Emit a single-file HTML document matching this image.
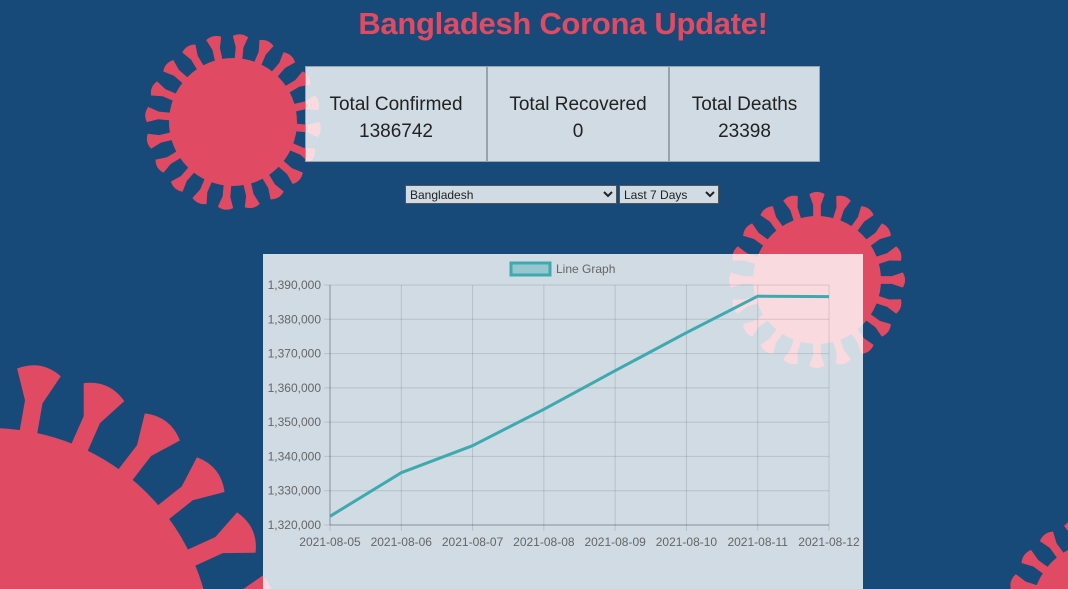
<!DOCTYPE html>
<html><head><meta charset="utf-8">
<style>
html,body{margin:0;padding:0;overflow:hidden;width:1068px;height:589px}
body{background:#174a78;position:relative;font-family:"Liberation Sans",sans-serif}
#bg{position:absolute;left:0;top:0}
h1{position:absolute;top:6px;left:263px;width:600px;margin:0;text-align:center;color:#e04a62;font-size:31px;font-weight:bold;letter-spacing:-0.3px}
.cards{position:absolute;left:305px;top:66px;display:flex}
.card{width:182px;height:96px;background:rgba(255,255,255,0.8);border:1px solid #9aa3ab;box-sizing:border-box;text-align:center;font-size:19px;color:#222;padding-top:24px;line-height:27px}
.card:last-child{width:151px}
select{position:absolute;top:185px;height:19px;font-size:12px;font-family:"Liberation Sans",sans-serif;background:#d1dbe4;color:#222;border:1px solid #555}
#chart{position:absolute;left:263px;top:254px;width:600px;height:335px;background:rgba(255,255,255,0.8)}
</style></head><body>
<svg id="bg" width="1068" height="589">
<g id="v1"></g>
<g id="v2"></g>
<g id="v3"></g>
<g id="v4"></g>
</svg>
<h1>Bangladesh Corona Update!</h1>
<div class="cards">
<div class="card">Total Confirmed<br>1386742</div>
<div class="card">Total Recovered<br>0</div>
<div class="card">Total Deaths<br>23398</div>
</div>
<select style="left:405px;width:212px"><option>Bangladesh</option></select>
<select style="left:619px;width:100px"><option>Last 7 Days</option></select>
<svg id="chart" width="600" height="335"></svg>
<script>
const NS="http://www.w3.org/2000/svg";
function mk(p,t,a){const e=document.createElementNS(NS,t);for(const k in a)e.setAttribute(k,a[k]);p.appendChild(e);return e;}
function virus(id,cx,cy,r,n,rot,lf,wf,tf){
  const g=document.getElementById(id);const c="#e04a62";
  mk(g,"circle",{cx:cx,cy:cy,r:r,fill:c});
  const L=r*lf,w=r*wf,tw=r*tf;
  for(let i=0;i<n;i++){
    const a=rot+i*360/n;
    const s=mk(g,"g",{transform:`translate(${cx},${cy}) rotate(${a})`});
    mk(s,"path",{d:`M${-w/2},${-r+4} L${-w/2},${-r-L*0.5} L${-tw/2},${-r-L} Q0,${-r-L-tw*0.3} ${tw/2},${-r-L} L${w/2},${-r-L*0.5} L${w/2},${-r+4} Z`,fill:c});
  }
}
virus("v1",233,122,64,20,5,0.34,0.12,0.24);
virus("v2",817,280,64,20,0,0.34,0.12,0.24);
virus("v3",-10,650,222,26,10,0.27,0.08,0.2);
virus("v4",1100,610,68,20,0,0.34,0.12,0.24);

const categories=["2021-08-05","2021-08-06","2021-08-07","2021-08-08","2021-08-09","2021-08-10","2021-08-11","2021-08-12"];
const values=[1322540,1335250,1343130,1353750,1365000,1376080,1386740,1386600];
const yTicks=[1320000,1330000,1340000,1350000,1360000,1370000,1380000,1390000];
const svg=document.getElementById("chart");
const X0=67,X1=566,Y0=271,Y1=31,VMIN=1320000,VMAX=1390000;
const xs=i=>X0+i*(X1-X0)/(categories.length-1);
const ys=v=>Y0-(v-VMIN)/(VMAX-VMIN)*(Y0-Y1);
yTicks.forEach(t=>{
  const y=ys(t);
  const l=mk(svg,"line",{x1:X0-6,x2:X1,y1:y,y2:y,stroke:"rgba(0,0,0,0.12)"});
  
  
  const tx=mk(svg,"text",{x:X0-9,y:y+4,"text-anchor":"end","font-size":12,fill:"#666","font-family":"Liberation Sans"});
  tx.textContent=t.toLocaleString("en-US");
  
  
});
categories.forEach((c,i)=>{
  const x=xs(i);
  const l=mk(svg,"line",{x1:x,x2:x,y1:Y1,y2:Y0+6,stroke:"rgba(0,0,0,0.12)"});
  
  
  const tx=mk(svg,"text",{x:x,y:Y0+21,"text-anchor":"middle","font-size":12,fill:"#666","font-family":"Liberation Sans"});
  tx.textContent=c;
  
  
});
const ax=mk(svg,"line",{x1:X0,x2:X0,y1:Y1,y2:Y0,stroke:"rgba(0,0,0,0.25)"});


const ax2=mk(svg,"line",{x1:X0,x2:X1,y1:Y0,y2:Y0,stroke:"rgba(0,0,0,0.25)"});


const line=mk(svg,"polyline",{points:values.map((v,i)=>xs(i)+","+ys(v)).join(" "),fill:"none",stroke:"#3fa9b0","stroke-width":3,"stroke-linejoin":"round"});


const lb=mk(svg,"rect",{x:248,y:9,width:39,height:12,fill:"rgba(63,169,176,0.4)",stroke:"#3fa9b0","stroke-width":3});


const lt=mk(svg,"text",{x:293,y:19,"font-size":12,fill:"#666","font-family":"Liberation Sans"});
lt.textContent="Line Graph";


</script>
</body></html>
